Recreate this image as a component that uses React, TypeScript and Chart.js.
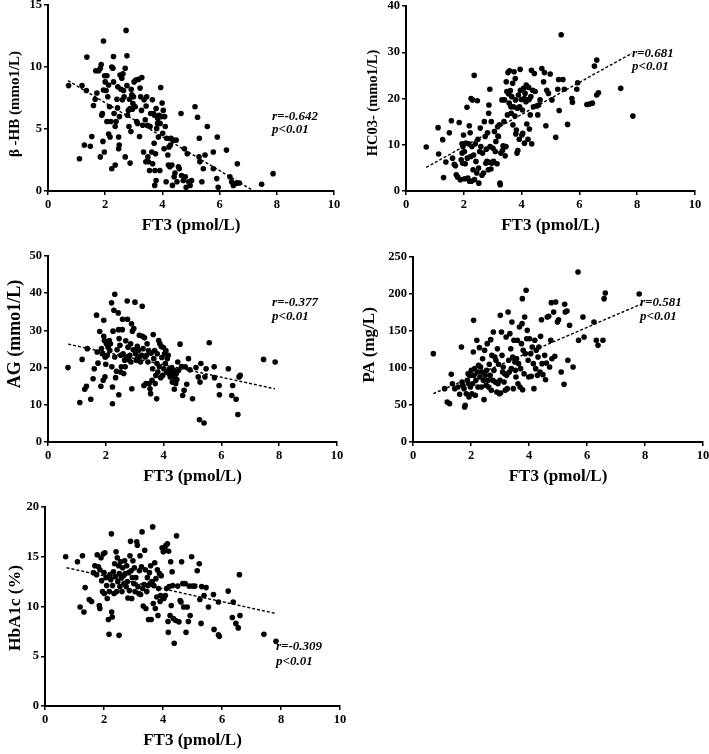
import React, { useEffect, useRef } from "react";
import { Chart, registerables } from "chart.js";

Chart.register(...registerables);

const SERIF = "'Liberation Serif', 'Times New Roman', 'Noto Sans CJK SC', serif";

// ---------- data ----------
const xTickValues = [0, 2, 4, 6, 8, 10];
const xTitle = "FT3 (pmol/L)";

const betaHbPoints: [number, number][] = [
  [0.72,8.5],[1.1,2.6],[1.19,8.5],[1.27,3.7],[1.34,8.1],[1.36,10.8],[1.48,3.6],[1.53,4.4],[1.59,6.9],[1.65,7.4],[1.71,7.9],[1.67,9.7],[1.77,9.7],[1.83,2.75],[1.83,9.9],[1.86,10.2],[1.88,6.1],[1.9,6.25],[1.92,4.0],[1.94,12.1],[1.94,8.15],[1.97,3.15],[1.98,9.3],[2.0,8.8],[2.03,8.1],[2.06,9.3],[2.06,5.6],[2.09,7.6],[2.12,4.6],[2.12,8.55],[2.15,6.8],[2.17,4.35],[2.2,5.6],[2.23,10.0],[2.23,1.8],[2.27,9.9],[2.29,8.8],[2.29,10.85],[2.31,6.25],[2.35,2.1],[2.35,5.2],[2.38,5.6],[2.41,7.4],[2.43,6.7],[2.44,8.4],[2.47,4.35],[2.47,3.4],[2.49,3.7],[2.5,6.0],[2.52,9.35],[2.55,8.2],[2.58,9.1],[2.6,7.35],[2.62,9.45],[2.64,8.1],[2.66,7.6],[2.7,2.75],[2.7,9.9],[2.73,12.95],[2.76,10.9],[2.76,8.5],[2.78,6.1],[2.81,6.5],[2.83,5.2],[2.85,7.4],[2.87,6.65],[2.87,2.25],[2.9,4.8],[2.91,8.2],[2.93,7.75],[2.95,6.6],[2.97,7.05],[2.99,7.6],[3.01,8.8],[3.05,6.8],[3.07,8.95],[3.1,5.6],[3.13,5.45],[3.16,9.0],[3.2,4.4],[3.22,8.3],[3.24,7.6],[3.27,6.5],[3.28,9.15],[3.31,5.3],[3.34,3.15],[3.36,7.35],[3.4,5.75],[3.42,2.35],[3.43,6.85],[3.45,7.6],[3.48,5.3],[3.49,2.75],[3.51,2.35],[3.55,1.65],[3.57,5.2],[3.59,6.25],[3.63,3.15],[3.65,7.35],[3.66,2.2],[3.69,6.25],[3.71,3.85],[3.72,6.1],[3.73,0.45],[3.74,1.65],[3.76,3.0],[3.78,6.65],[3.78,0.85],[3.8,5.05],[3.83,5.45],[3.84,5.85],[3.86,4.35],[3.88,6.1],[3.91,1.65],[3.92,5.45],[3.94,8.35],[3.97,6.0],[3.99,7.1],[4.01,4.65],[4.03,6.5],[4.06,3.4],[4.08,6.0],[4.1,5.2],[4.13,0.75],[4.15,4.25],[4.19,2.9],[4.21,2.1],[4.23,3.55],[4.26,1.95],[4.28,3.7],[4.3,4.25],[4.33,2.1],[4.35,0.45],[4.37,4.1],[4.41,1.15],[4.44,1.45],[4.48,4.1],[4.51,0.75],[4.56,1.95],[4.59,1.8],[4.65,6.25],[4.67,1.25],[4.73,0.85],[4.77,3.4],[4.8,1.15],[4.83,0.3],[4.87,3.0],[4.92,0.75],[4.97,0.45],[5.02,0.85],[5.14,6.8],[5.23,5.95],[5.28,2.75],[5.29,4.25],[5.31,2.35],[5.38,0.75],[5.43,1.8],[5.49,2.9],[5.57,5.2],[5.78,3.15],[5.78,1.8],[5.9,1.0],[5.92,4.35],[5.95,0.3],[6.24,3.3],[6.36,1.15],[6.42,0.75],[6.48,0.45],[6.55,0.6],[6.62,2.2],[6.63,0.65],[6.69,0.65],[7.47,0.55],[7.87,1.4]
];
const betaHbFit: [number, number][] = [[0.7, 8.9], [7.2, 0]];

const hco3Points: [number, number][] = [
  [0.7,9.5],[1.13,8.0],[1.11,13.7],[1.27,11.1],[1.3,2.9],[1.38,6.25],[1.5,12.6],[1.57,15.2],[1.61,7.1],[1.67,5.8],[1.71,5.45],[1.74,3.5],[1.79,3.0],[1.84,14.8],[1.88,2.45],[1.91,6.75],[1.94,10.2],[1.94,8.2],[1.96,6.0],[1.97,9.6],[1.99,12.1],[2.02,8.55],[2.03,2.65],[2.05,5.9],[2.07,10.35],[2.11,18.1],[2.12,7.1],[2.14,2.8],[2.17,10.2],[2.19,14.1],[2.2,2.1],[2.22,12.6],[2.24,7.45],[2.25,20.0],[2.26,2.1],[2.28,9.6],[2.3,19.7],[2.32,4.6],[2.34,7.8],[2.36,25.0],[2.37,2.45],[2.4,10.2],[2.42,6.4],[2.45,3.9],[2.47,19.5],[2.49,11.2],[2.51,4.95],[2.52,1.7],[2.55,8.55],[2.57,13.6],[2.59,9.6],[2.63,3.4],[2.65,8.2],[2.68,3.9],[2.71,15.0],[2.74,11.8],[2.76,6.0],[2.78,9.05],[2.8,6.4],[2.82,12.6],[2.85,4.6],[2.86,16.8],[2.87,18.6],[2.89,6.2],[2.9,22.0],[2.91,9.6],[2.94,4.75],[2.95,15.0],[2.97,6.0],[3.01,9.25],[3.03,6.4],[3.06,12.85],[3.09,8.55],[3.11,10.7],[3.15,5.9],[3.17,13.9],[3.18,11.9],[3.2,11.8],[3.23,14.3],[3.25,1.7],[3.26,1.35],[3.28,8.2],[3.32,19.7],[3.34,8.75],[3.36,9.75],[3.39,15.0],[3.41,19.7],[3.43,7.6],[3.46,9.6],[3.47,23.6],[3.49,21.5],[3.51,16.45],[3.53,25.6],[3.55,21.0],[3.57,19.0],[3.58,26.0],[3.61,21.7],[3.63,18.2],[3.64,16.8],[3.66,20.4],[3.69,23.3],[3.7,14.3],[3.72,18.2],[3.74,25.8],[3.77,16.2],[3.78,24.3],[3.79,19.7],[3.8,12.35],[3.82,13.2],[3.84,8.2],[3.85,17.9],[3.87,8.75],[3.89,20.75],[3.92,11.2],[3.93,18.2],[3.95,26.3],[3.96,21.8],[3.99,19.8],[4.01,12.1],[4.03,17.5],[4.04,12.5],[4.07,22.2],[4.09,20.0],[4.1,10.35],[4.12,21.1],[4.15,19.3],[4.16,22.9],[4.18,14.5],[4.2,19.7],[4.22,11.2],[4.24,22.4],[4.26,19.8],[4.27,13.4],[4.3,16.45],[4.32,20.4],[4.34,26.1],[4.35,10.2],[4.38,21.8],[4.41,18.2],[4.44,25.4],[4.47,21.5],[4.53,18.4],[4.56,16.45],[4.59,18.6],[4.64,19.7],[4.7,26.5],[4.76,23.6],[4.79,25.6],[4.84,14.1],[4.87,21.8],[4.93,21.1],[4.99,25.3],[5.05,19.7],[5.18,11.6],[5.25,22.0],[5.28,24.1],[5.3,17.4],[5.37,33.8],[5.43,24.1],[5.48,22.0],[5.59,14.4],[5.74,20.0],[5.76,19.2],[5.91,22.0],[5.94,23.4],[6.26,18.7],[6.35,18.8],[6.45,19.0],[6.52,27.0],[6.6,28.3],[6.6,20.75],[6.66,21.25],[7.43,22.2],[7.85,16.2]
];
const hco3Fit: [number, number][] = [[0.7, 5.1], [7.82, 29.8]];

const agPoints: [number, number][] = [
  [0.69,20.0],[1.1,10.6],[1.18,22.2],[1.27,14.2],[1.33,15.0],[1.36,25.1],[1.48,11.5],[1.56,17.0],[1.6,19.7],[1.68,34.1],[1.7,24.2],[1.73,21.2],[1.79,29.7],[1.83,15.0],[1.85,25.1],[1.88,23.7],[1.91,16.6],[1.93,32.7],[1.93,28.4],[1.95,27.3],[1.97,17.5],[1.98,22.8],[2.0,20.9],[2.02,26.4],[2.05,23.3],[2.08,25.5],[2.12,27.3],[2.14,24.6],[2.16,26.4],[2.2,37.4],[2.21,20.2],[2.23,14.8],[2.23,10.3],[2.25,29.8],[2.28,35.4],[2.31,39.7],[2.31,22.85],[2.34,17.3],[2.37,19.0],[2.39,24.8],[2.43,34.7],[2.44,30.2],[2.45,12.7],[2.46,27.8],[2.49,26.0],[2.51,18.8],[2.52,23.3],[2.54,20.2],[2.57,30.2],[2.58,33.0],[2.6,23.7],[2.62,18.4],[2.65,22.0],[2.67,20.2],[2.69,27.2],[2.72,22.85],[2.74,37.9],[2.75,33.0],[2.77,25.5],[2.8,22.1],[2.83,23.3],[2.86,26.4],[2.87,21.5],[2.89,31.8],[2.9,14.3],[2.92,29.8],[2.95,24.8],[2.97,30.5],[3.01,37.6],[3.03,23.7],[3.06,22.0],[3.09,25.7],[3.11,22.7],[3.13,24.6],[3.16,28.7],[3.18,23.0],[3.2,21.5],[3.24,23.3],[3.26,36.5],[3.27,28.4],[3.29,25.1],[3.32,15.2],[3.34,28.0],[3.36,22.85],[3.39,15.7],[3.41,23.3],[3.43,26.4],[3.46,21.5],[3.48,24.6],[3.5,15.7],[3.53,14.3],[3.55,13.0],[3.57,23.9],[3.6,16.6],[3.62,19.7],[3.64,28.9],[3.66,22.4],[3.69,24.6],[3.71,15.7],[3.73,17.9],[3.76,11.6],[3.77,21.1],[3.78,23.7],[3.8,18.8],[3.83,27.3],[3.85,20.2],[3.87,26.4],[3.9,17.3],[3.92,25.7],[3.94,22.7],[3.97,17.9],[3.99,25.4],[4.01,19.7],[4.03,23.7],[4.06,21.1],[4.08,24.6],[4.1,18.8],[4.13,22.4],[4.16,23.3],[4.18,18.4],[4.21,19.7],[4.23,17.5],[4.25,18.8],[4.28,20.0],[4.3,16.1],[4.32,17.9],[4.35,19.3],[4.37,14.2],[4.39,17.3],[4.42,15.7],[4.44,18.4],[4.46,16.8],[4.49,21.5],[4.52,19.3],[4.57,26.3],[4.62,20.3],[4.66,12.5],[4.71,13.9],[4.75,20.2],[4.8,15.5],[4.86,22.4],[4.91,19.4],[5.0,11.6],[5.12,20.0],[5.2,17.5],[5.24,6.0],[5.26,16.1],[5.29,21.1],[5.4,5.1],[5.43,17.5],[5.47,19.7],[5.58,26.7],[5.75,20.2],[5.76,17.3],[5.92,15.2],[5.93,12.7],[6.24,19.7],[6.36,12.5],[6.39,15.2],[6.51,11.5],[6.57,7.4],[6.61,17.5],[6.65,17.9],[7.46,22.2],[7.86,21.5]
];
const agFit: [number, number][] = [[0.7, 26.3], [7.85, 14.3]];

const paPoints: [number, number][] = [
  [0.7,119.4],[1.09,72.1],[1.18,54.1],[1.26,51.8],[1.32,91.4],[1.36,78.8],[1.44,72.1],[1.55,74.3],[1.61,64.4],[1.67,128.4],[1.69,81.1],[1.72,76.6],[1.76,72.1],[1.78,47.3],[1.8,49.5],[1.84,65.3],[1.87,83.3],[1.9,92.3],[1.92,78.8],[1.93,60.8],[1.95,90.1],[1.98,74.3],[2.01,96.8],[2.03,65.3],[2.06,78.8],[2.08,121.6],[2.09,164.4],[2.1,90.1],[2.13,99.1],[2.15,63.1],[2.17,83.3],[2.2,137.4],[2.22,94.6],[2.24,74.3],[2.26,103.6],[2.29,127.5],[2.31,87.8],[2.33,101.4],[2.36,74.3],[2.38,94.6],[2.4,112.6],[2.43,83.3],[2.45,57.2],[2.47,123.9],[2.49,90.1],[2.52,76.6],[2.54,96.8],[2.56,132.9],[2.59,83.3],[2.61,74.3],[2.63,105.0],[2.66,90.1],[2.68,138.3],[2.7,69.8],[2.72,117.1],[2.75,83.3],[2.77,148.6],[2.79,96.8],[2.82,114.9],[2.84,81.1],[2.86,110.4],[2.89,67.6],[2.91,126.1],[2.93,78.8],[2.95,105.0],[2.98,65.3],[3.0,83.3],[3.01,171.2],[3.02,66.2],[3.05,148.6],[3.07,117.1],[3.09,94.6],[3.11,101.4],[3.14,81.1],[3.16,92.3],[3.18,69.8],[3.21,141.9],[3.23,90.1],[3.25,72.1],[3.28,175.7],[3.3,110.4],[3.32,94.6],[3.34,146.4],[3.37,126.1],[3.39,99.1],[3.41,162.2],[3.44,114.9],[3.46,72.1],[3.48,137.4],[3.51,108.1],[3.53,96.8],[3.55,87.8],[3.57,112.6],[3.6,137.4],[3.62,78.8],[3.64,105.9],[3.67,155.4],[3.69,74.3],[3.71,99.1],[3.74,132.9],[3.76,159.9],[3.77,193.7],[3.78,70.7],[3.8,123.9],[3.83,92.3],[3.85,168.9],[3.87,119.4],[3.9,205.0],[3.92,139.6],[3.94,150.9],[3.97,110.4],[3.99,87.8],[4.02,139.6],[4.06,119.4],[4.08,88.7],[4.11,128.4],[4.15,105.9],[4.17,72.1],[4.2,137.4],[4.23,99.1],[4.25,123.9],[4.29,90.1],[4.31,114.9],[4.34,128.4],[4.38,94.6],[4.4,142.8],[4.43,165.3],[4.45,105.9],[4.48,91.0],[4.54,117.1],[4.57,84.2],[4.6,106.8],[4.63,168.9],[4.68,169.8],[4.71,101.4],[4.75,137.4],[4.77,188.3],[4.79,112.6],[4.85,175.7],[4.89,115.8],[4.92,189.2],[4.98,162.2],[5.02,165.3],[5.11,94.6],[5.21,77.9],[5.23,186.0],[5.25,175.7],[5.31,177.0],[5.34,110.4],[5.4,157.7],[5.52,101.4],[5.69,229.7],[5.71,137.4],[5.86,168.9],[5.9,141.9],[6.24,162.2],[6.32,137.4],[6.38,130.6],[6.55,137.4],[6.59,193.7],[6.63,201.4],[7.8,200.0]
];
const paFit: [number, number][] = [[0.7, 65.3], [7.9, 187]];

const hba1cPoints: [number, number][] = [
  [0.7,15.0],[1.1,14.5],[1.19,9.95],[1.27,15.1],[1.32,9.45],[1.36,11.9],[1.5,10.7],[1.58,10.5],[1.64,13.4],[1.69,14.1],[1.75,13.2],[1.77,15.2],[1.81,14.0],[1.84,10.1],[1.86,13.7],[1.86,9.8],[1.9,14.9],[1.92,12.6],[1.95,11.5],[1.98,15.3],[2.0,13.4],[2.01,11.3],[2.03,15.4],[2.07,12.9],[2.09,12.1],[2.11,10.8],[2.15,8.7],[2.17,7.2],[2.18,11.5],[2.2,13.2],[2.23,12.7],[2.25,17.3],[2.26,9.45],[2.28,8.95],[2.29,12.1],[2.32,13.5],[2.34,11.3],[2.36,14.3],[2.38,13.0],[2.41,15.5],[2.43,11.5],[2.45,14.9],[2.47,12.5],[2.5,14.1],[2.51,7.1],[2.52,13.3],[2.54,12.0],[2.56,14.5],[2.59,12.9],[2.61,11.5],[2.63,13.9],[2.66,13.1],[2.68,12.3],[2.7,14.6],[2.72,13.3],[2.75,12.0],[2.77,14.1],[2.79,12.5],[2.81,10.85],[2.84,13.4],[2.86,11.6],[2.88,15.1],[2.9,16.55],[2.92,13.6],[2.94,10.8],[2.96,12.9],[2.98,14.6],[3.01,12.3],[3.03,13.9],[3.05,11.5],[3.08,12.9],[3.11,16.5],[3.13,16.15],[3.15,12.0],[3.18,11.3],[3.2,13.6],[3.22,15.1],[3.24,11.2],[3.27,14.0],[3.29,17.5],[3.31,11.8],[3.33,10.05],[3.36,12.2],[3.38,15.65],[3.4,13.7],[3.42,9.8],[3.45,11.5],[3.47,12.9],[3.49,12.1],[3.51,8.7],[3.54,13.4],[3.56,12.3],[3.58,14.1],[3.6,8.7],[3.63,12.5],[3.65,18.0],[3.67,10.3],[3.69,12.1],[3.72,14.4],[3.74,9.8],[3.76,12.8],[3.79,10.95],[3.81,13.7],[3.83,9.1],[3.85,11.8],[3.88,13.3],[3.9,10.5],[3.92,11.1],[3.94,13.1],[3.97,15.9],[3.99,10.95],[4.01,15.5],[4.03,10.8],[4.06,15.8],[4.08,11.1],[4.1,16.15],[4.12,11.8],[4.15,16.3],[4.17,8.5],[4.18,7.4],[4.19,15.55],[4.21,12.0],[4.24,9.1],[4.26,14.5],[4.28,10.1],[4.31,13.5],[4.33,12.1],[4.35,8.8],[4.38,6.3],[4.43,8.6],[4.46,17.1],[4.5,12.05],[4.54,8.45],[4.58,10.6],[4.61,10.45],[4.63,14.5],[4.67,12.3],[4.7,9.95],[4.75,12.3],[4.78,7.4],[4.82,9.95],[4.86,8.5],[4.89,12.05],[4.92,9.1],[4.97,15.0],[5.0,12.05],[5.08,12.05],[5.16,13.6],[5.23,14.3],[5.25,10.7],[5.29,8.3],[5.31,12.0],[5.39,11.1],[5.46,11.9],[5.54,9.95],[5.71,11.2],[5.73,7.7],[5.88,10.45],[5.88,7.15],[5.91,7.0],[6.21,11.55],[6.35,8.9],[6.38,10.45],[6.47,8.3],[6.55,7.85],[6.61,9.1],[6.59,13.2],[7.42,7.2],[7.83,6.5]
];
const hba1cFit: [number, number][] = [[0.73, 13.9], [7.85, 9.28]];

const yTitles = ["β -HB (mmo1/L)", "HC03- (mmo1/L)", "AG (mmo1/L)", "PA (mg/L)", "HbA1c (%)"];
const yMaxes = [15, 40, 50, 250, 20];
const ySteps = [5, 10, 10, 50, 5];
const rLabels = ["r=-0.642", "r=0.681", "r=-0.377", "r=0.581", "r=-0.309"];
const pLabel = "p<0.01";

// ---------- layout (page pixel geometry) ----------
type Area = { L: number; T: number; R: number; B: number };
interface PanelSpec {
  points: [number, number][];
  fit: [number, number][];
  yMax: number;
  yStep: number;
  yTitle: string;
  rLabel: string;
  area: Area;
  yTitleSize: number;
  yTitleX: number;
  yTitleY: number;
  statX: number;
  statY: [number, number];
}

const Y_BOX = 60;
const PAD_TOP = 15;
const PAD_RIGHT = 22;
const X_BOX = 50;

const panels: PanelSpec[] = [
  { points: betaHbPoints, fit: betaHbFit, yMax: yMaxes[0], yStep: ySteps[0], yTitle: yTitles[0], rLabel: rLabels[0],
    area: { L: 48, T: 5, R: 334, B: 191 }, yTitleSize: 15, yTitleX: 15, yTitleY: 104, statX: 272, statY: [119.5, 133] },
  { points: hco3Points, fit: hco3Fit, yMax: yMaxes[1], yStep: ySteps[1], yTitle: yTitles[1], rLabel: rLabels[1],
    area: { L: 406, T: 6, R: 695, B: 191 }, yTitleSize: 14.5, yTitleX: 373, yTitleY: 103, statX: 632, statY: [56.5, 70] },
  { points: agPoints, fit: agFit, yMax: yMaxes[2], yStep: ySteps[2], yTitle: yTitles[2], rLabel: rLabels[2],
    area: { L: 48, T: 256, R: 337, B: 442 }, yTitleSize: 18, yTitleX: 15, yTitleY: 334, statX: 272, statY: [306, 320] },
  { points: paPoints, fit: paFit, yMax: yMaxes[3], yStep: ySteps[3], yTitle: yTitles[3], rLabel: rLabels[3],
    area: { L: 413, T: 257, R: 703, B: 442 }, yTitleSize: 17, yTitleX: 370, yTitleY: 345, statX: 640, statY: [306, 320] },
  { points: hba1cPoints, fit: hba1cFit, yMax: yMaxes[4], yStep: ySteps[4], yTitle: yTitles[4], rLabel: rLabels[4],
    area: { L: 45, T: 507, R: 340, B: 706 }, yTitleSize: 17.5, yTitleX: 15, yTitleY: 608, statX: 276, statY: [650, 665] },
];

function Panel({ spec }: { spec: PanelSpec }) {
  const ref = useRef<HTMLCanvasElement>(null);
  const { area } = spec;
  const cl = area.L - Y_BOX;
  const ct = area.T - PAD_TOP;
  const w = area.R - area.L + Y_BOX + PAD_RIGHT;
  const h = area.B - area.T + PAD_TOP + X_BOX;

  useEffect(() => {
    if (!ref.current) return;
    const textPlugin = {
      id: "panelText",
      afterDraw(chart: any) {
        const ctx = chart.ctx as CanvasRenderingContext2D;
        ctx.save();
        ctx.fillStyle = "#000";
        ctx.font = `bold ${spec.yTitleSize}px ${SERIF}`;
        ctx.textAlign = "center";
        ctx.textBaseline = "middle";
        ctx.translate(spec.yTitleX - cl, spec.yTitleY - ct);
        ctx.rotate(-Math.PI / 2);
        ctx.fillText(spec.yTitle, 0, 0);
        ctx.restore();
        ctx.save();
        ctx.fillStyle = "#000";
        ctx.font = `italic bold 13px ${SERIF}`;
        ctx.textAlign = "left";
        ctx.textBaseline = "alphabetic";
        ctx.fillText(spec.rLabel, spec.statX - cl, spec.statY[0] - ct);
        ctx.fillText(pLabel, spec.statX - cl, spec.statY[1] - ct);
        ctx.restore();
      },
    };
    const tickFont = { family: SERIF, size: 12.5, weight: "bold" as const };
    const gridOpts = { display: true, drawOnChartArea: false, drawTicks: true, tickLength: 4, color: "#000", lineWidth: 1.5 };
    const borderOpts = { display: true, color: "#000", width: 2 };
    const chart = new Chart(ref.current, {
      type: "scatter",
      data: {
        datasets: [
          {
            data: spec.points.map(([x, y]) => ({ x, y })),
            backgroundColor: "#000",
            borderColor: "#000",
            pointRadius: 2.8,
            pointBorderWidth: 0,
            clip: false,
          } as any,
          {
            data: spec.fit.map(([x, y]) => ({ x, y })),
            showLine: true,
            borderColor: "#000",
            borderWidth: 1.4,
            borderDash: [3, 2],
            pointRadius: 0,
            clip: false,
          } as any,
        ],
      },
      options: {
        animation: false,
        responsive: false,
        devicePixelRatio: 1,
        layout: { padding: { left: 0, top: PAD_TOP, right: PAD_RIGHT, bottom: 0 } },
        plugins: { legend: { display: false }, tooltip: { enabled: false } },
        scales: {
          x: {
            type: "linear",
            position: "bottom",
            min: xTickValues[0],
            max: xTickValues[xTickValues.length - 1],
            afterBuildTicks: (s: any) => { s.ticks = xTickValues.map((v) => ({ value: v })); },
            ticks: { color: "#000", font: tickFont, padding: 2, maxRotation: 0, autoSkip: false },
            grid: gridOpts,
            border: borderOpts,
            title: { display: true, text: xTitle, color: "#000", font: { family: SERIF, size: 17, weight: "bold" }, padding: { top: 0, bottom: 5 } },
            afterFit: (s: any) => { s.height = X_BOX; },
          } as any,
          y: {
            type: "linear",
            min: 0,
            max: spec.yMax,
            ticks: { stepSize: spec.yStep, color: "#000", font: tickFont, padding: 2 },
            grid: gridOpts,
            border: borderOpts,
            afterFit: (s: any) => { s.width = Y_BOX; },
          } as any,
        },
      },
      plugins: [textPlugin],
    });
    return () => chart.destroy();
  }, []);

  return (
    <canvas
      ref={ref}
      width={w}
      height={h}
      style={{ position: "absolute", left: cl, top: ct, width: w, height: h }}
    />
  );
}

export default function App() {
  return (
    <div style={{ position: "absolute", left: 0, top: 0, width: 709, height: 754, overflow: "hidden", background: "#fff" }}>
      {panels.map((p, i) => (
        <Panel key={i} spec={p} />
      ))}
    </div>
  );
}
